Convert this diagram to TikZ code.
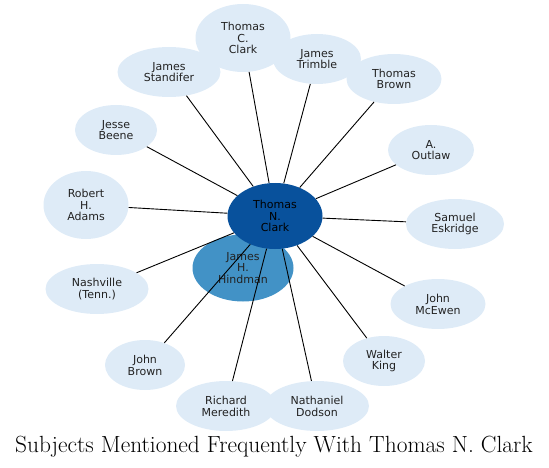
\documentclass[tikz,border=0pt]{standalone}
\usepackage{fontspec}
\usetikzlibrary{shapes.geometric}
\newfontfamily\labfont{DejaVu Sans}
\definecolor{leaf}{HTML}{DEEBF7}
\definecolor{mid}{HTML}{4292C6}
\definecolor{hub}{HTML}{08519C}
\definecolor{txt}{HTML}{222222}
\tikzset{
  bub/.style={ellipse, inner sep=0pt, fill=leaf, draw=none, align=center, text=txt,
    font=\labfont\fontsize{11}{11.8}\selectfont, minimum height=50pt},
  link/.style={draw=black, line width=0.9pt}
}
\begin{document}
\begin{tikzpicture}[x=1pt,y=-1pt]
\useasboundingbox (0,0) rectangle (549,468);
\node[bub, fill=mid, minimum width=101pt, minimum height=67pt] (hind) at (243,268) {James\\H.\\Hindman};
\node[bub, fill=hub, text=black, minimum width=95pt, minimum height=66pt] (clark) at (275,216) {Thomas\\N.\\Clark};
\node[bub, minimum width=95pt, minimum height=68pt] (tcc) at (243,38) {Thomas\\C.\\Clark};
\node[bub, minimum width=103pt] (js) at (169,72) {James\\Standifer};
\node[bub, minimum width=88pt] (jt) at (317,59) {James\\Trimble};
\node[bub, minimum width=95pt] (tb) at (394,79) {Thomas\\Brown};
\node[bub, minimum width=86pt] (ao) at (431,150) {A.\\Outlaw};
\node[bub, minimum width=82pt] (jb) at (116,130) {Jesse\\Beene};
\node[bub, minimum width=85pt, minimum height=68pt] (rha) at (86,205) {Robert\\H.\\Adams};
\node[bub, minimum width=98pt] (se) at (455,224) {Samuel\\Eskridge};
\node[bub, minimum width=103pt] (nt) at (97,289) {Nashville\\(Tenn.)};
\node[bub, minimum width=95pt] (jm) at (438,304) {John\\McEwen};
\node[bub, minimum width=82pt] (wk) at (384,361) {Walter\\King};
\node[bub, minimum width=80pt] (jbr) at (145,365) {John\\Brown};
\node[bub, minimum width=100pt] (rm) at (226,406) {Richard\\Meredith};
\node[bub, minimum width=104pt] (nd) at (317,406) {Nathaniel\\Dodson};
\foreach \t in {tcc,js,jt,tb,ao,jb,rha,se,nt,jm,wk,jbr,rm,nd}
  \draw[link] (clark) -- (\t);
\node[font=\fontsize{23.4}{28}\selectfont, anchor=base, inner sep=0pt] (title) at (274,452.5) {Subjects Mentioned Frequently With Thomas N. Clark};
\end{tikzpicture}
\end{document}
